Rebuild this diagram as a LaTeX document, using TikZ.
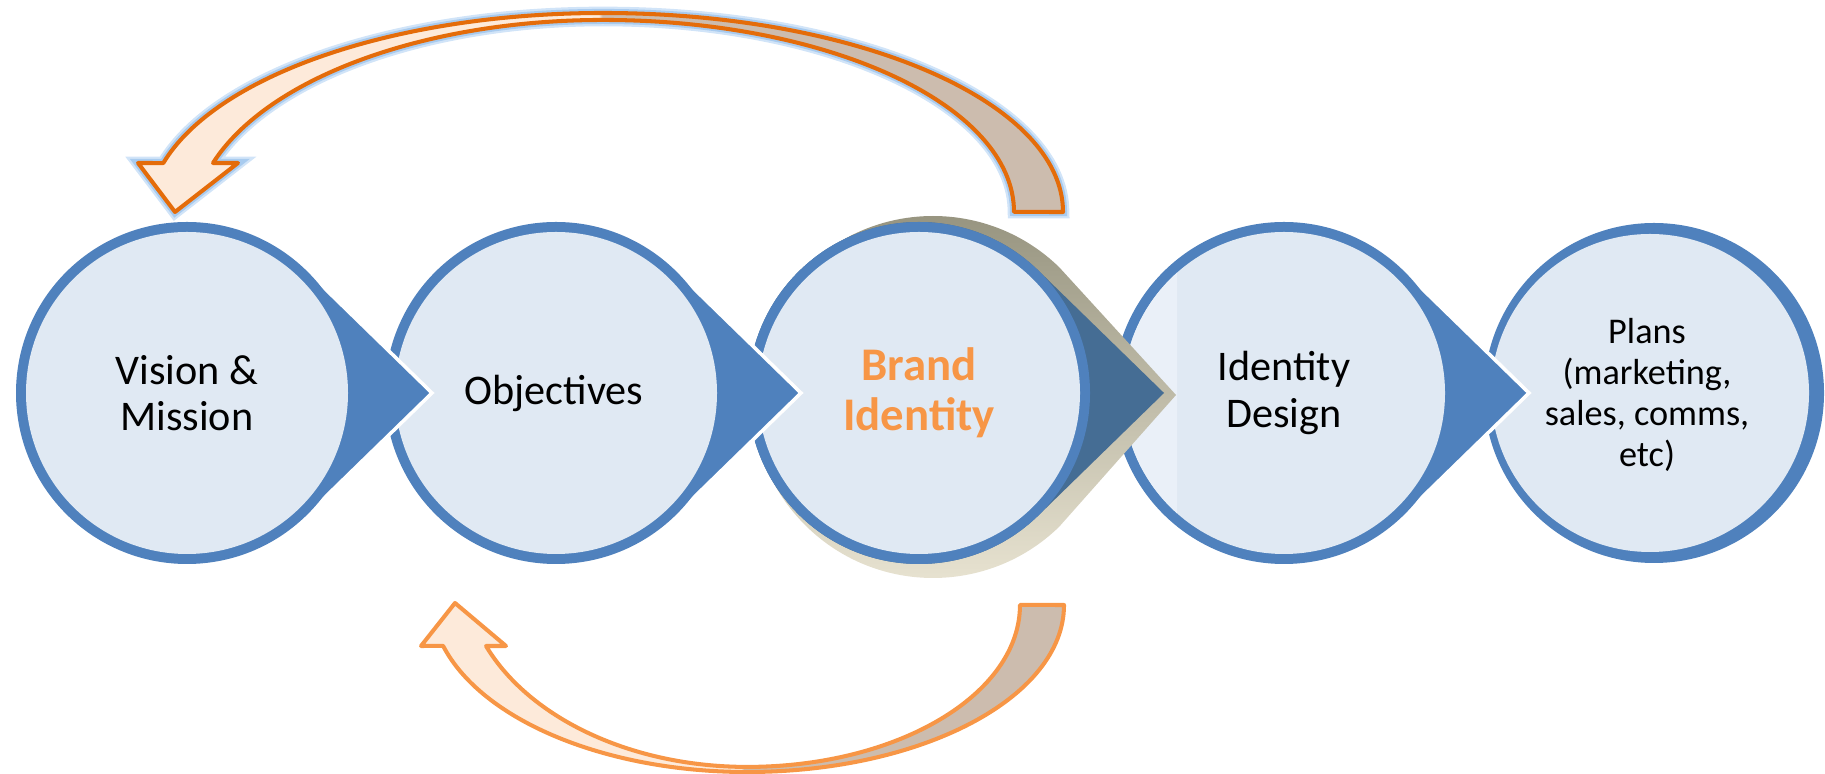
\documentclass[tikz,border=0pt]{standalone}
\usepackage{fontspec}
\setmainfont{Carlito}
\usepackage{tikz}
\definecolor{ringblue}{rgb}{0.31,0.506,0.741}
\definecolor{darkblue}{rgb}{0.271,0.427,0.58}
\definecolor{innerblue}{rgb}{0.878,0.914,0.953}
\definecolor{paleblue}{rgb}{0.918,0.941,0.973}
\definecolor{orangedark}{rgb}{0.894,0.424,0.039}
\definecolor{orangelight}{rgb}{0.969,0.588,0.275}
\definecolor{peach}{rgb}{0.992,0.918,0.855}
\definecolor{tan}{rgb}{0.8,0.737,0.682}
\definecolor{glowa}{rgb}{0.659,0.796,0.937}
\definecolor{glowb}{rgb}{0.82,0.894,0.973}
\definecolor{rimdark}{rgb}{0.58,0.57,0.49}
\definecolor{rimlight}{rgb}{0.92,0.9,0.83}
\pgfdeclarehorizontalshading{twotone}{100bp}{color(0bp)=(peach); color(49.9bp)=(peach); color(50.1bp)=(tan); color(100bp)=(tan)}
\tikzstyle{disc}=[fill=ringblue]
\tikzstyle{hole}=[fill=innerblue]
\tikzstyle{txt}=[align=center, font=\fontsize{12}{13.1}\selectfont]
\tikzstyle{loopup}=[draw=orangedark, line width=1.15pt, line join=round, shading=twotone, preaction={draw=glowb, line width=3.6pt}, preaction={draw=glowa, line width=2.3pt}]
\tikzstyle{loopdown}=[draw=orangelight, line width=1.15pt, line join=round, shading=twotone]

\begin{document}
\begin{tikzpicture}[x=0.01cm, y=-0.01cm]
\useasboundingbox (0,0) rectangle (1825,774);
\fill[disc] (1654,393) circle[radius=170];
\fill[hole] (1650,393) circle[radius=159];
\foreach \cx/\tc/\oc in {1284/ringblue/white, 919/darkblue/none, 556/ringblue/white, 187/ringblue/white}{
	\ifnum\cx=919
		\shade[top color=rimdark, bottom color=rimlight] (933,397) ++(45.8:181) arc[start angle=45.8, end angle=314.2, radius=181] -- (1176,395) -- cycle;
	\fi
	\path[fill=\tc, draw=\oc, line width=1pt] (\cx,393) ++(45.7:171) arc[start angle=45.7, end angle=314.3, radius=171] -- (\cx+245,393) -- cycle;
	\fill[disc] (\cx,393) circle[radius=171];
	\fill[hole] (\cx,393) circle[radius=161];
	\ifnum\cx=1284
		\begin{scope}
			\clip (1100,200) rectangle (1177,600);
			\fill[paleblue] (\cx,393) circle[radius=161];
		\end{scope}
	\fi
}
\node[txt] (vision) at (187,393) {Vision \&\\Mission};
\node[txt] (objectives) at (554,393) {Objectives};
\node[txt, font=\bfseries\fontsize{13.3}{14.2}\selectfont, text=orangelight] (brand) at (919,393) {Brand\\Identity};
\node[txt] (design) at (1284,393) {Identity\\Design};
\node[txt, font=\fontsize{10.3}{11.7}\selectfont] (plans) at (1647,395) {Plans\\(marketing,\\sales, comms,\\etc)};
\shadedraw[loopup] (1063,212) arc[start angle=0, end angle=-90, x radius=460, y radius=199]
	arc[start angle=-90, end angle=-165.1, x radius=455, y radius=202]
	-- (138,163) -- (175,212) -- (238,163) -- (213,163)
	arc[start angle=197.8, end angle=270, x radius=409.6, y radius=206]
	arc[start angle=270, end angle=360, x radius=411, y radius=192] -- cycle;
\shadedraw[loopdown] (1064,605) arc[start angle=0, end angle=90, x radius=317, y radius=167]
	arc[start angle=90, end angle=164.1, x radius=316, y radius=173.7]
	-- (421,646) -- (455,603) -- (506,646) -- (486,646)
	arc[start angle=157.3, end angle=90, x radius=282.9, y radius=196.9]
	arc[start angle=90, end angle=0, x radius=273, y radius=162] -- cycle;
\end{tikzpicture}
\end{document}
